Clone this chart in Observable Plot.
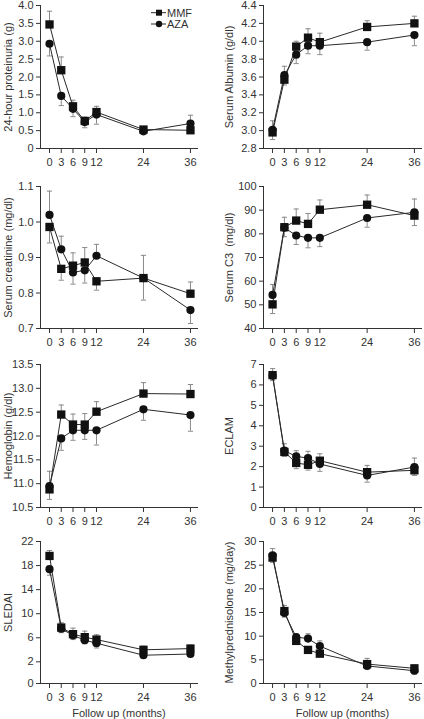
<!DOCTYPE html>
<html><head><meta charset="utf-8">
<script src="https://cdn.jsdelivr.net/npm/d3@7"></script>
<script src="https://cdn.jsdelivr.net/npm/@observablehq/plot@0.6"></script>
<style>
html,body{margin:0;padding:0;background:#fff;}
#root{position:relative;width:424px;height:719px;overflow:hidden;background:#fff;font-family:"Liberation Sans",Arial,Helvetica,sans-serif;}
#root svg{position:absolute;overflow:visible;}
</style></head>
<body><div id="root"></div>
<script>
// ---- shared ----
const months = [0, 3, 6, 9, 12, 24, 36];
const monthTicks = [0, 3, 6, 9, 12, 24, 36];
const groups = ["MMF", "AZA"];

// ---- 24-hour proteinuria (g) ----
const protTicks = [0, 0.5, 1.0, 1.5, 2.0, 2.5, 3.0, 3.5, 4.0];
const protMMF    = [3.47, 2.19, 1.18, 0.77, 1.02, 0.53, 0.51];
const protMMFerr = [3.84, 2.56, 1.35, 0.88, 1.18, 0.58, 0.44];
const protAZA    = [2.93, 1.47, 1.11, 0.74, 0.95, 0.48, 0.70];
const protAZAerr = [2.59, 1.20, 0.89, 0.58, 0.68, 0.44, 0.93];

// ---- Serum Albumin (g/dl) ----
const albTicks = [2.8, 3.0, 3.2, 3.4, 3.6, 3.8, 4.0, 4.2, 4.4];
const albMMF    = [2.98, 3.57, 3.94, 4.04, 3.99, 4.16, 4.20];
const albMMFerr = [2.90, 3.51, 4.00, 4.14, 4.09, 4.23, 4.28];
const albAZA    = [3.01, 3.62, 3.85, 3.95, 3.95, 3.99, 4.07];
const albAZAerr = [3.11, 3.72, 3.75, 3.86, 3.85, 3.90, 3.95];

// ---- Serum creatinine (mg/dl) ----
const creTicks = [0.7, 0.8, 0.9, 1.0, 1.1];
const creMMF    = [0.986, 0.868, 0.877, 0.886, 0.833, 0.842, 0.798];
const creMMFerr = [0.941, 0.836, 0.913, 0.928, 0.808, 0.906, 0.831];
const creAZA    = [1.020, 0.923, 0.858, 0.864, 0.905, 0.842, 0.752];
const creAZAerr = [1.087, 0.960, 0.825, 0.828, 0.937, 0.780, 0.714];

// ---- Serum C3 (mg/dl) ----
const c3Ticks = [40, 50, 60, 70, 80, 90, 100];
const c3MMF    = [50.2, 82.8, 85.6, 84.2, 90.2, 92.3, 87.7];
const c3MMFerr = [46.3, 87.0, 90.5, 88.6, 94.3, 96.4, 83.5];
const c3AZA    = [54.2, 82.6, 79.3, 78.3, 78.3, 86.7, 89.1];
const c3AZAerr = [58.6, 78.8, 75.5, 74.1, 74.6, 82.8, 94.7];

// ---- Hemoglobin (g/dl) ----
const hbTicks = [10.5, 11.0, 11.5, 12.0, 12.5, 13.0, 13.5];
const hbMMF    = [10.88, 12.45, 12.24, 12.24, 12.51, 12.89, 12.88];
const hbMMFerr = [10.67, 12.65, 12.46, 12.47, 12.72, 13.12, 13.08];
const hbAZA    = [10.95, 11.95, 12.12, 12.12, 12.12, 12.56, 12.44];
const hbAZAerr = [11.26, 11.70, 11.91, 11.93, 11.81, 12.33, 12.10];

// ---- ECLAM ----
const eclTicks = [0, 1, 2, 3, 4, 5, 6, 7];
const eclMMF    = [6.48, 2.72, 2.18, 2.09, 2.29, 1.73, 1.82];
const eclMMFerr = [6.80, 2.50, 1.90, 1.83, 2.63, 2.06, 1.57];
const eclAZA    = [6.45, 2.78, 2.50, 2.42, 2.13, 1.57, 1.98];
const eclAZAerr = [6.21, 3.12, 2.78, 2.75, 1.77, 1.24, 2.42];

// ---- SLEDAI (axis bottom labelled 0, as in the source) ----
const sleTicks = [-1.6, 2, 6, 10, 14, 18, 22];
const sleTickLabels = ["0", "2", "6", "10", "14", "18", "22"];
const sleMMF    = [19.6, 7.7, 6.6, 6.1, 5.7, 4.0, 4.2];
const sleMMFerr = [20.5, 8.5, 7.6, 7.1, 6.5, 4.6, 4.8];
const sleAZA    = [17.4, 7.5, 6.4, 5.6, 5.1, 3.1, 3.3];
const sleAZAerr = [16.4, 6.85, 5.7, 5.0, 4.3, 2.8, 2.9];

// ---- Methylprednisolone (mg/day) ----
const mpTicks = [0, 5, 10, 15, 20, 25, 30];
const mpMMF    = [26.6, 15.3, 9.0, 7.1, 6.3, 4.1, 3.2];
const mpMMFerr = [25.6, 16.5, 8.3, 6.7, 6.0, 5.3, 3.9];
const mpAZA    = [27.1, 14.9, 9.8, 9.5, 7.9, 3.7, 2.7];
const mpAZAerr = [28.5, 14.0, 10.4, 10.5, 9.0, 3.2, 2.0];

const xTitle = "Follow up (months)";

// ---- drawing ----
const FONT = '"Liberation Sans", Arial, Helvetica, sans-serif';
const capSymbol = {draw(ctx, size) { const w = Math.sqrt(size / Math.PI); ctx.moveTo(-w, 0); ctx.lineTo(w, 0); }};
const root = document.getElementById("root");

const rowTop = [5, 186, 364, 541];
const rowH = [143, 142, 143, 142];

function panel(o) {
  const rows = [];
  months.forEach((m, i) => {
    rows.push({m, g: "MMF", v: o.mmf[i], e: o.mmfErr[i]});
    rows.push({m, g: "AZA", v: o.aza[i], e: o.azaErr[i]});
  });
  const col = o.col, row = o.row;
  const mT = 8, mB = row === 3 ? 40 : 30;
  const mL = col === 0 ? 40 : 51, mR = col === 0 ? 15 : 3;
  const h = rowH[row];
  const marks = [
    Plot.ruleX(rows, {x: "m", y1: "v", y2: "e", stroke: "#8a8a8a", strokeWidth: 1}),
    Plot.dot(rows, {x: "m", y: "e", symbol: capSymbol, r: 2.6, stroke: "#8a8a8a", strokeWidth: 1, fill: "none"}),
    Plot.line(rows, {x: "m", y: "v", z: "g", stroke: "#2a2a2a", strokeWidth: 1}),
    Plot.dot(rows.filter(d => d.g === "AZA"), {x: "m", y: "v", symbol: "circle", r: 4.1, fill: "#111", stroke: "none"}),
    Plot.dot(rows.filter(d => d.g === "MMF"), {x: "m", y: "v", symbol: "square", r: 4.7, fill: "#111", stroke: "none"}),
    Plot.text([o.label], {text: d => d, frameAnchor: "left", dx: col === 0 ? -32 : -34, rotate: -90,
      textAnchor: "middle", lineAnchor: "middle", fontSize: 11, fill: "#333"})
  ];
  if (row === 3) marks.push(Plot.text([xTitle], {text: d => d, frameAnchor: "bottom", dy: 30,
      textAnchor: "middle", lineAnchor: "middle", fontSize: 11, fill: "#333"}));
  const svg = Plot.plot({
    width: 212, height: mT + h + mB,
    marginTop: mT, marginBottom: mB, marginLeft: mL, marginRight: mR,
    style: {fontFamily: FONT, fontSize: "11px", color: "#333", background: "transparent", overflow: "visible"},
    x: {domain: [-2.3, 37.8], ticks: monthTicks, tickFormat: d => String(d), tickSize: 5, tickPadding: 5, line: true, label: null},
    y: {domain: o.domain, ticks: o.ticks, tickFormat: o.fmt, tickSize: 4, tickPadding: 3, line: true, label: null},
    marks
  });
  svg.style.left = (col * 212) + "px";
  svg.style.top = (rowTop[row] - mT) + "px";
  svg.style.maxWidth = "none";
  root.appendChild(svg);
}

const f1 = d => d.toFixed(1);
panel({row: 0, col: 0, label: "24-hour proteinuria (g)", domain: [0, 4], ticks: protTicks, fmt: d => d === 0 ? "0" : d.toFixed(1), mmf: protMMF, mmfErr: protMMFerr, aza: protAZA, azaErr: protAZAerr});
panel({row: 0, col: 1, label: "Serum Albumin (g/dl)", domain: [2.8, 4.4], ticks: albTicks, fmt: f1, mmf: albMMF, mmfErr: albMMFerr, aza: albAZA, azaErr: albAZAerr});
panel({row: 1, col: 0, label: "Serum creatinine (mg/dl)", domain: [0.7, 1.1], ticks: creTicks, fmt: f1, mmf: creMMF, mmfErr: creMMFerr, aza: creAZA, azaErr: creAZAerr});
panel({row: 1, col: 1, label: "Serum C3\u00a0 (mg/dl)", domain: [40, 100], ticks: c3Ticks, fmt: d => String(d), mmf: c3MMF, mmfErr: c3MMFerr, aza: c3AZA, azaErr: c3AZAerr});
panel({row: 2, col: 0, label: "Hemoglobin (g/dl)", domain: [10.5, 13.5], ticks: hbTicks, fmt: f1, mmf: hbMMF, mmfErr: hbMMFerr, aza: hbAZA, azaErr: hbAZAerr});
panel({row: 2, col: 1, label: "ECLAM", domain: [0, 7], ticks: eclTicks, fmt: d => String(d), mmf: eclMMF, mmfErr: eclMMFerr, aza: eclAZA, azaErr: eclAZAerr});
panel({row: 3, col: 0, label: "SLEDAI", domain: [-1.6, 22], ticks: sleTicks, fmt: d => sleTickLabels[sleTicks.indexOf(d)], mmf: sleMMF, mmfErr: sleMMFerr, aza: sleAZA, azaErr: sleAZAerr});
panel({row: 3, col: 1, label: "Methylprednisolone (mg/day)", domain: [0, 30], ticks: mpTicks, fmt: d => String(d), mmf: mpMMF, mmfErr: mpMMFerr, aza: mpAZA, azaErr: mpAZAerr});

// ---- legend (inside the first panel) ----
const lg = d3.select(root).append("svg").attr("width", 50).attr("height", 26)
  .style("left", "149px").style("top", "6px");
groups.forEach((g, i) => {
  const y = 6.7 + i * 11.3;
  const row = lg.append("g");
  row.append("line").attr("x1", 2).attr("x2", 17).attr("y1", y).attr("y2", y).attr("stroke", "#2a2a2a");
  if (g === "MMF") row.append("rect").attr("x", 7).attr("y", y - 3).attr("width", 6).attr("height", 6).attr("fill", "#111");
  else row.append("circle").attr("cx", 10).attr("cy", y).attr("r", 3.2).attr("fill", "#111");
  row.append("text").attr("x", 18).attr("y", y).attr("dy", "0.35em").attr("font-size", 11)
    .attr("font-family", FONT).attr("fill", "#333").text(g);
});
</script>
</body></html>
